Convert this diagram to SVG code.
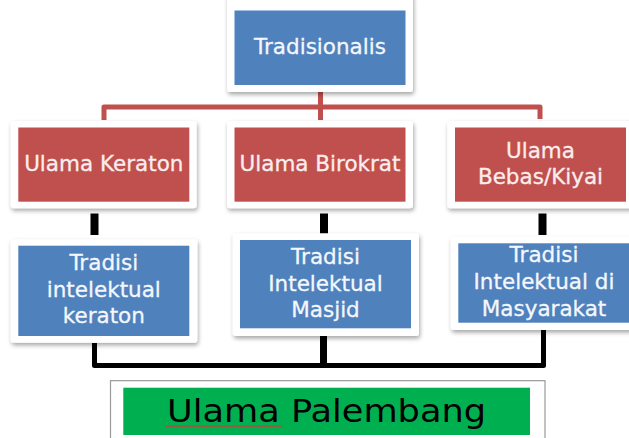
<svg xmlns="http://www.w3.org/2000/svg" width="629" height="438" viewBox="0 0 629 438">
<defs>
<filter id="sh" x="-10%" y="-10%" width="120%" height="130%">
<feDropShadow dx="1" dy="2.5" stdDeviation="2" flood-color="#000" flood-opacity="0.35"/>
</filter>
<style>
.frame{fill:#fff;filter:url(#sh)}
.blue{fill:#4F81BD}
.red{fill:#C0504D}
.t{font-family:"DejaVu Sans",sans-serif;font-size:21.5px;text-anchor:middle;stroke-width:0.3}
.tb{fill:#F4F7FC;stroke:#F4F7FC}
.tr{fill:#FBEDED;stroke:#FBEDED}
.rc{fill:none;stroke:#C0504D;stroke-width:5;stroke-linejoin:round}
.bc{fill:none;stroke:#000;stroke-linejoin:round}
</style>
</defs>
<rect width="629" height="438" fill="#fff"/>
<g id="connectors">
<path class="rc" d="M104,120 V107 H540 V119 M320.5,92 V120"/>
<path class="bc" stroke-width="8" d="M94.5,213.5 V235 M324,213.5 V235 M542.5,213.5 V235"/>
<path class="bc" stroke-width="5" d="M94.5,343 V365.5 H543.5 V330"/>
<path class="bc" stroke-width="7" d="M323.5,336 V365.5"/>
</g>
<g id="tradisionalis">
<rect class="frame" x="227" y="-6" width="186" height="98" rx="3"/>
<rect class="blue" x="234.5" y="10.5" width="171" height="74.5"/>
<text class="t tb" x="320" y="54">Tradisionalis</text>
</g>
<g id="ulama-keraton">
<rect class="frame" x="10.7" y="121" width="186" height="87.3" rx="3"/>
<rect class="red" x="18.3" y="127.5" width="171" height="74.2"/>
<text class="t tr" x="103.8" y="171">Ulama Keraton</text>
</g>
<g id="ulama-birokrat">
<rect class="frame" x="227" y="121" width="186" height="87.3" rx="3"/>
<rect class="red" x="234.5" y="127.5" width="171" height="74.2"/>
<text class="t tr" x="320" y="171">Ulama Birokrat</text>
</g>
<g id="ulama-bebas">
<rect class="frame" x="447.3" y="121" width="190" height="87.3" rx="3"/>
<rect class="red" x="455" y="127.5" width="171" height="74.2"/>
<text class="t tr" x="540.5" y="158.3">Ulama</text>
<text class="t tr" x="540.5" y="184.3">Bebas/Kiyai</text>
</g>
<g id="tradisi-keraton">
<rect class="frame" x="10.7" y="239.3" width="186.6" height="103.4" rx="3"/>
<rect class="blue" x="18.3" y="245.7" width="171" height="90.3"/>
<text class="t tb" x="103.8" y="270">Tradisi</text>
<text class="t tb" x="103.8" y="296.7">intelektual</text>
<text class="t tb" x="103.8" y="323.3">keraton</text>
</g>
<g id="tradisi-masjid">
<rect class="frame" x="232.7" y="233.3" width="186.3" height="102.7" rx="3"/>
<rect class="blue" x="240" y="240" width="171" height="88.3"/>
<text class="t tb" x="325.5" y="264">Tradisi</text>
<text class="t tb" x="325.5" y="290.7">Intelektual</text>
<text class="t tb" x="325.5" y="317.3">Masjid</text>
</g>
<g id="tradisi-masyarakat">
<rect class="frame" x="450.7" y="236.7" width="190" height="93.3" rx="3"/>
<rect class="blue" x="458.3" y="243.3" width="175" height="79.4"/>
<text class="t tb" x="544" y="262.3">Tradisi</text>
<text class="t tb" x="544" y="289.3">Intelektual di</text>
<text class="t tb" x="544" y="315.7">Masyarakat</text>
</g>
<g id="ulama-palembang">
<rect x="110.5" y="380.7" width="434.5" height="70" fill="#fff" stroke="#999" stroke-width="1.2"/>
<rect x="123.3" y="387.7" width="406.7" height="47.3" fill="#00B050"/>
<text x="167" y="421.5" font-family="DejaVu Sans, sans-serif" font-size="31.5" fill="#000" textLength="319" lengthAdjust="spacingAndGlyphs">Ulama Palembang</text>
<path d="M166,427 l2,-1.2 l2,1.2 l2,-1.2 l2,1.2 l2,-1.2 l2,1.2 l2,-1.2 l2,1.2 l2,-1.2 l2,1.2 l2,-1.2 l2,1.2 l2,-1.2 l2,1.2 l2,-1.2 l2,1.2 l2,-1.2 l2,1.2 l2,-1.2 l2,1.2 l2,-1.2 l2,1.2 l2,-1.2 l2,1.2 l2,-1.2 l2,1.2 l2,-1.2 l2,1.2 l2,-1.2 l2,1.2 l2,-1.2 l2,1.2 l2,-1.2 l2,1.2 l2,-1.2 l2,1.2 l2,-1.2 l2,1.2 l2,-1.2 l2,1.2 l2,-1.2 l2,1.2 l2,-1.2 l2,1.2 l2,-1.2 l2,1.2 l2,-1.2 l2,1.2 l2,-1.2 l2,1.2 l2,-1.2 l2,1.2 l2,-1.2 l2,1.2 l2,-1.2 l2,1.2 l2,-1.2 l2,1.2" fill="none" stroke="#E03030" stroke-width="0.9"/>
</g>
</svg>
